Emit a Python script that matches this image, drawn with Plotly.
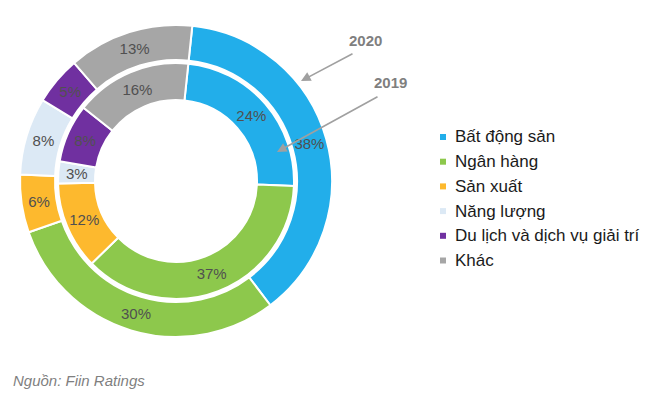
import math
import plotly.graph_objects as go

# ---- data ----
categories = ["Bất động sản", "Ngân hàng", "Sản xuất", "Năng lượng",
              "Du lịch và dịch vụ giải trí", "Khác"]
values_2020 = [38, 30, 6, 8, 5, 13]   # outer ring
values_2019 = [24, 37, 12, 3, 8, 16]  # inner ring
colors = ["#22AEEA", "#8DC84C", "#FDB92E", "#DCE9F5", "#7030A0", "#A6A6A6"]
year_outer = "2020"
year_inner = "2019"
source_text = "Nguồn: Fiin Ratings"

W, H = 650, 407
FONT = "Liberation Sans, Arial, sans-serif"
LABEL_FONT = dict(family=FONT, size=15, color="#505050")
ROT = 6

# geometry (pixels)
cx, cy = 176, 181
r_out, r_out_in = 156, 121
r_in, r_in_in = 118, 81


def dom(r):
    return dict(x=[(cx - r) / W, (cx + r) / W],
                y=[(H - cy - r) / H, (H - cy + r) / H])


annotations = []
shapes = []

fig = go.Figure()
for vals, r, rh in [(values_2020, r_out, r_out_in), (values_2019, r_in, r_in_in)]:
    total = sum(vals)
    # very thin slices: label drawn as annotation so it keeps full size
    positions = []
    cum = 0
    for v in vals:
        if v / total < 0.04:
            positions.append("none")
            ang = math.radians(ROT + 360 * (cum + v / 2) / total)
            rm = (r + rh) / 2
            annotations.append(dict(x=(cx + rm * math.sin(ang)) / W,
                                    y=1 - (cy - rm * math.cos(ang)) / H,
                                    xref="paper", yref="paper", xanchor="center",
                                    yanchor="middle", text=f"{v}%", showarrow=False,
                                    font=LABEL_FONT))
        else:
            positions.append("inside")
        cum += v
    fig.add_trace(go.Pie(
        labels=categories, values=vals, sort=False, direction="clockwise",
        rotation=ROT, hole=rh / r, domain=dom(r),
        marker=dict(colors=colors, line=dict(color="white", width=2)),
        texttemplate="%{value}%", textposition=positions,
        insidetextorientation="horizontal",
        textfont=LABEL_FONT,
        showlegend=False, hoverinfo="label+value",
    ))

# year labels with arrows
for txt, tx, ty in [(year_outer, 365, 40), (year_inner, 390, 82)]:
    annotations.append(dict(x=tx / W, y=1 - ty / H, xref="paper", yref="paper",
                            xanchor="center", yanchor="middle",
                            text=f"<b>{txt}</b>", showarrow=False,
                            font=dict(family=FONT, size=15, color="#7F7F7F")))
for hx, hy, tx, ty in [(301, 81, 354, 53), (277, 152, 379, 96)]:
    annotations.append(dict(x=hx / W, y=1 - hy / H, xref="paper", yref="paper",
                            ax=tx - hx, ay=ty - hy, text="", showarrow=True,
                            arrowhead=2, arrowsize=1.2, arrowwidth=1.6,
                            arrowcolor="#A0A0A0"))

# manual legend
lx, ly0, dy = 443, 137, 24.7
for i, (cat, col) in enumerate(zip(categories, colors)):
    y = ly0 + i * dy
    shapes.append(dict(type="rect", xref="paper", yref="paper",
                       x0=(lx - 3) / W, x1=(lx + 3) / W,
                       y0=1 - (y + 3) / H, y1=1 - (y - 3) / H,
                       fillcolor=col, line=dict(width=0)))
    annotations.append(dict(x=(lx + 10) / W, y=1 - y / H, xref="paper", yref="paper",
                            xanchor="left", yanchor="middle", text=cat, showarrow=False,
                            font=dict(family=FONT, size=17, color="#1A1A1A")))

# source
annotations.append(dict(x=11 / W, y=1 - 380 / H, xref="paper", yref="paper",
                        xanchor="left", yanchor="middle", text=f"<i>{source_text}</i>",
                        showarrow=False, font=dict(family=FONT, size=15, color="#7F7F7F")))

fig.update_layout(width=W, height=H, margin=dict(l=0, r=0, t=0, b=0),
                  paper_bgcolor="white", plot_bgcolor="white",
                  annotations=annotations, shapes=shapes)
fig.write_html("out.html", config={"displayModeBar": False},
               post_script="document.body.style.margin='0';document.body.style.overflow='hidden';")
